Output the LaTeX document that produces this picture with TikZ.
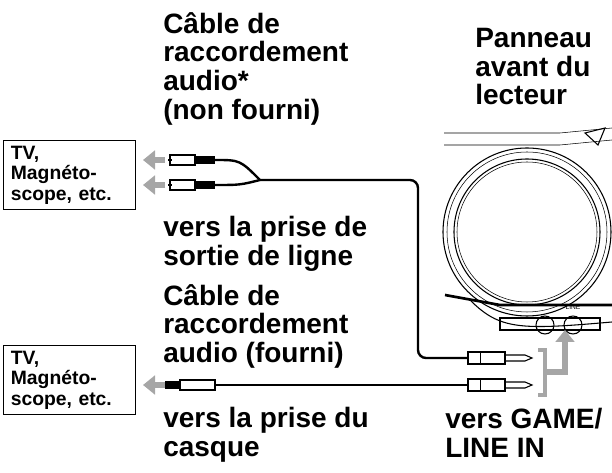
\documentclass[tikz,border=0pt]{standalone}
\usepackage{fontspec}
\setmainfont{Liberation Sans}
\begin{document}
\begin{tikzpicture}[x=0.75pt,y=-0.75pt,
 lbl/.style={anchor=north west,align=left,font=\bfseries\fontsize{21}{21.5}\selectfont,inner sep=0pt},
 box/.style={draw,thick,minimum width=99pt,anchor=north west,align=left,inner sep=4pt,font=\bfseries\fontsize{14.5}{15.5}\selectfont,text width=88pt},
 garr/.style={draw=gray!70,line width=5pt,-{Triangle[length=9pt,width=14pt]}},
 cable/.style={line width=1.8pt,rounded corners=6pt}]
\usetikzlibrary{arrows.meta}
\useasboundingbox (0,0) rectangle (612,473);
% texts
\node[lbl] (t1) at (163,12) {Câble de\\raccordement\\audio*\\(non fourni)};
\node[lbl] (t2) at (475,28) {Panneau\\avant du\\lecteur};
\node[lbl] (t3) at (163,216) {vers la prise de\\sortie de ligne};
\node[lbl] (t4) at (163,284) {Câble de\\raccordement\\audio (fourni)};
\node[lbl] (t5) at (163,407) {vers la prise du\\casque};
\node[lbl] (t6) at (445,408) {vers GAME/\\LINE IN};
\node[box,minimum height=52pt] (b1) at (3,140) {TV,\\Magnéto-\\scope, etc.};
\node[box,minimum height=49pt] (b2) at (3,345) {TV,\\Magnéto-\\scope, etc.};
% player
\coordinate (pc) at (527,232);
\draw[thick] (pc) circle (84);
\draw (pc) circle (80);
\draw[thick] (pc) circle (73);
\draw (pc) circle (70);
\draw (444,133) -- (560,133) -- (612,128);
\draw (444,145) -- (560,145) -- (612,140);
\draw[thick] (585,133) -- (605,128) -- (598,145) -- cycle;
\draw[line width=2pt] (445,295) -- (500,305) -- (612,305);
\draw[thick] (470,300) .. controls (500,330) and (520,330) .. (612,322);
\draw[thick] (500,318) rectangle (600,330);
\draw[thick] (545,325) circle (9);
\draw[thick] (573,325) circle (9);
\node[font=\tiny] (lin) at (573,307) {LINE};
% plugs
\foreach \n/\y in {p1/160,p2/185}{
 \draw[thick,fill=white] (170,\y-5) rectangle (195,\y+5);
 \fill (195,\y-4) rectangle (215,\y+4);
 \draw[thick] (168,\y) -- (172,\y);
 \coordinate (\n) at (215,\y);
}
\coordinate (j) at (260,180);
\draw[cable] (p1) .. controls (240,160) .. (j);
\draw[cable] (p2) .. controls (240,185) .. (j);
\coordinate (q1) at (468,358);
\coordinate (q2) at (468,385);
\draw[cable] (j) -- (418,180) -- (418,358) -- (q1);
\draw[cable] (215,385) -- (q2);
\fill (165,381) rectangle (180,389);
\draw[thick,fill=white] (180,380) rectangle (215,390);
\foreach \y in {358,385}{
 \draw[thick,fill=white] (468,\y-6) rectangle (505,\y+6);
 \draw (480,\y-6) -- (480,\y+6);
 \draw[thick] (505,\y-3) -- (525,\y-3) -- (532,\y) -- (525,\y+3) -- (505,\y+3);
}
\draw[gray!70,line width=2.5pt] (538,350) -- (545,350) -- (545,395) -- (538,395);
\draw[garr] (545,372) -- (565,372) -- (565,330);
\draw[garr] (165,160) -- (143,160);
\draw[garr] (165,185) -- (143,185);
\draw[garr] (165,385) -- (143,385);
\end{tikzpicture}
\end{document}
